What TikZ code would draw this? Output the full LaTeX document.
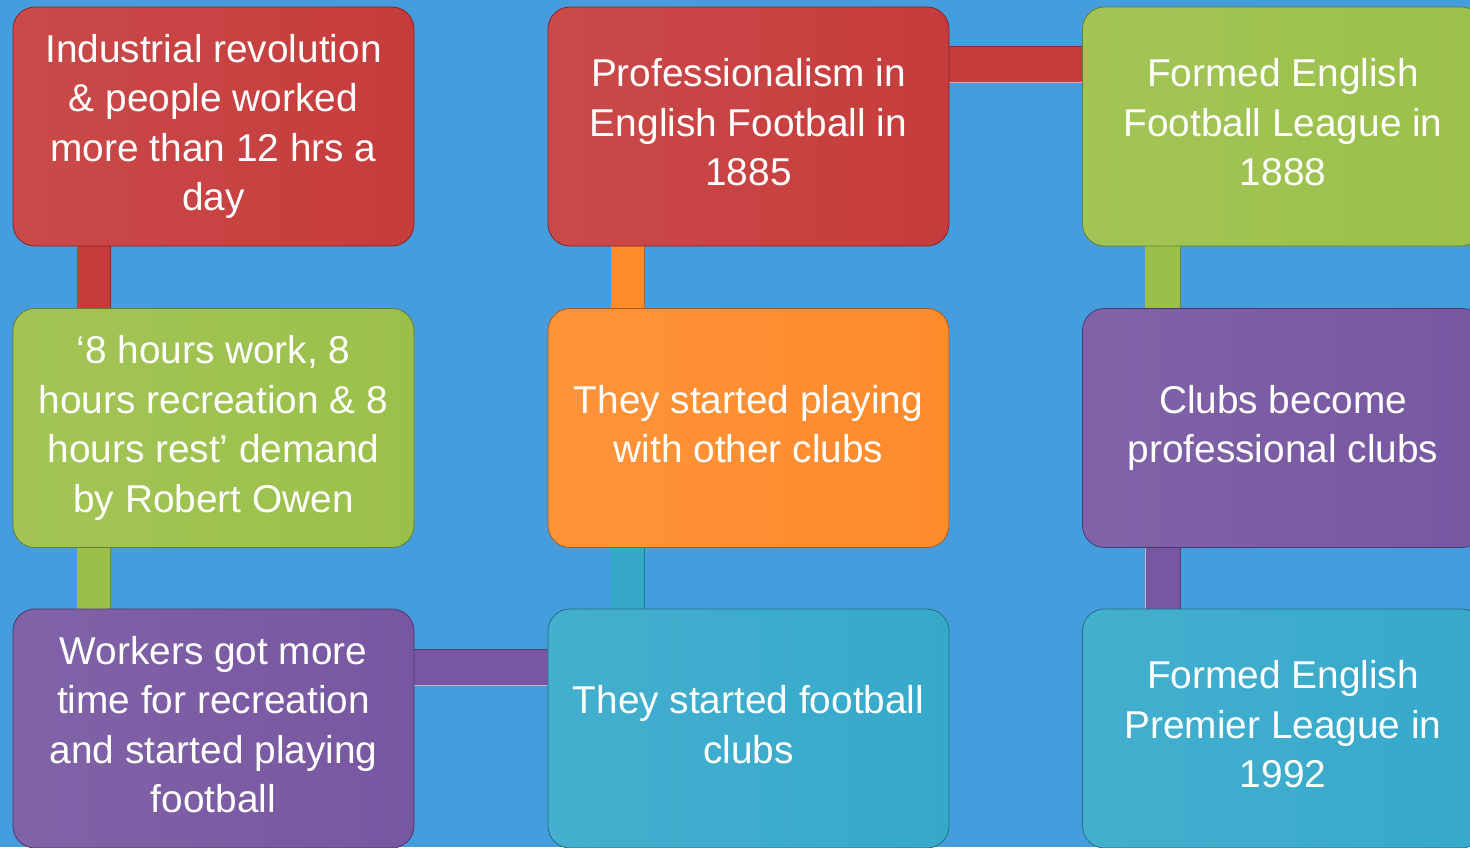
\documentclass[tikz,border=0pt]{standalone}
\usepackage{fontspec}
\setmainfont{Liberation Sans}
\definecolor{bg}{HTML}{469DDE}
\definecolor{cred}{HTML}{C63C3C}
\definecolor{cgreen}{HTML}{9BC04A}
\definecolor{corange}{HTML}{FF8B2B}
\definecolor{cpurple}{HTML}{7757A1}
\definecolor{cteal}{HTML}{36A9CB}
\newcommand{\boxtxt}[2]{\raisebox{#1}{\begin{tabular}{@{}c@{}}#2\end{tabular}}}
\begin{document}
\begin{tikzpicture}[x=1pt,y=-1pt,
  box/.style={rounded corners=22pt, minimum width=401pt, minimum height=239pt,
    inner sep=0pt, text=white,
    font=\fontsize{38.8}{49.5}\selectfont,
    left color=#1!93!white, right color=#1, draw=#1!65!black, line width=0.8pt},
  hl/.style={draw=#1!45!white, line width=1.2pt},
  sh/.style={draw=#1!70!black, line width=1pt}]
\useasboundingbox (0,0) rectangle (1470,847);
\fill[bg] (0,0) rectangle (1470,847);
\clip (0,0) rectangle (1470,847);
\path
  (213.5,126.5) coordinate (pa1)
  (748.5,126.5) coordinate (pb1)
  (1283,126.5) coordinate (pc1)
  (213.5,428) coordinate (pa2)
  (748.5,428) coordinate (pb2)
  (1283,428) coordinate (pc2)
  (213.5,728.5) coordinate (pa3)
  (748.5,728.5) coordinate (pb3)
  (1283,728.5) coordinate (pc3);
\path[every node/.style={minimum width=401pt, minimum height=239pt, inner sep=0pt}]
  node (a1) at (pa1) {} node (b1) at (pb1) {} node (c1) at (pc1) {}
  node (a2) at (pa2) {} node (b2) at (pb2) {} node (c2) at (pc2) {}
  node (a3) at (pa3) {} node (b3) at (pb3) {} node (c3) at (pc3) {};
% connectors
\fill[cred] ([xshift=64pt,yshift=2pt]a1.south west) rectangle ([xshift=98pt,yshift=-2pt]a2.north west);
\draw[sh=cred] ([xshift=98pt]a1.south west) -- ([xshift=98pt]a2.north west);
\fill[cgreen] ([xshift=64pt,yshift=2pt]a2.south west) rectangle ([xshift=98pt,yshift=-2pt]a3.north west);
\draw[sh=cgreen] ([xshift=98pt]a2.south west) -- ([xshift=98pt]a3.north west);
\fill[cpurple] ([xshift=-2pt,yshift=-41pt]a3.north east) rectangle ([xshift=2pt,yshift=-77pt]b3.north west);
\draw[sh=cpurple] ([yshift=-41pt]a3.north east) -- ([yshift=-41pt]b3.north west);
\draw[hl=cpurple] ([yshift=-77pt]a3.north east) -- ([yshift=-77pt]b3.north west);
\fill[cteal] ([xshift=63pt,yshift=-2pt]b3.north west) rectangle ([xshift=97pt,yshift=2pt]b2.south west);
\draw[sh=cteal] ([xshift=97pt]b3.north west) -- ([xshift=97pt]b2.south west);
\fill[corange] ([xshift=63pt,yshift=-2pt]b2.north west) rectangle ([xshift=97pt,yshift=2pt]b1.south west);
\draw[sh=corange] ([xshift=97pt]b2.north west) -- ([xshift=97pt]b1.south west);
\fill[cred] ([xshift=-2pt,yshift=-40pt]b1.north east) rectangle ([xshift=2pt,yshift=-76pt]c1.north west);
\draw[sh=cred] ([yshift=-40pt]b1.north east) -- ([yshift=-40pt]c1.north west);
\draw[hl=cred] ([yshift=-76pt]b1.north east) -- ([yshift=-76pt]c1.north west);
\fill[cgreen] ([xshift=63pt,yshift=2pt]c1.south west) rectangle ([xshift=98pt,yshift=-2pt]c2.north west);
\draw[sh=cgreen] ([xshift=98pt]c1.south west) -- ([xshift=98pt]c2.north west);
\fill[cpurple] ([xshift=63pt,yshift=2pt]c2.south west) rectangle ([xshift=98pt,yshift=-2pt]c3.north west);
\draw[sh=cpurple] ([xshift=98pt]c2.south west) -- ([xshift=98pt]c3.north west);
\draw[hl=cpurple] ([xshift=63pt]c2.south west) -- ([xshift=63pt]c3.north west);
% boxes
\node[box=cred] (ta1) at (pa1) {\boxtxt{0pt}{Industrial revolution\\ \& people worked\\ more than 12 hrs a\\ day}};
\node[box=cred] (tb1) at (pb1) {\boxtxt{3.5pt}{Professionalism in\\ English Football in\\ 1885}};
\node[box=cgreen] (tc1) at (pc1) {\boxtxt{3.5pt}{Formed English\\ Football League in\\ 1888}};
\node[box=cgreen] (ta2) at (pa2) {\boxtxt{0pt}{‘8 hours work, 8\\ hours recreation \& 8\\ hours rest’ demand\\ by Robert Owen}};
\node[box=corange] (tb2) at (pb2) {\boxtxt{3pt}{They started playing\\ with other clubs}};
\node[box=cpurple] (tc2) at (pc2) {\boxtxt{3pt}{Clubs become\\ professional clubs}};
\node[box=cpurple] (ta3) at (pa3) {\boxtxt{0pt}{Workers got more\\ time for recreation\\ and started playing\\ football}};
\node[box=cteal] (tb3) at (pb3) {\boxtxt{3pt}{They started football\\ clubs}};
\node[box=cteal] (tc3) at (pc3) {\boxtxt{3.5pt}{Formed English\\ Premier League in\\ 1992}};
\end{tikzpicture}
\end{document}
